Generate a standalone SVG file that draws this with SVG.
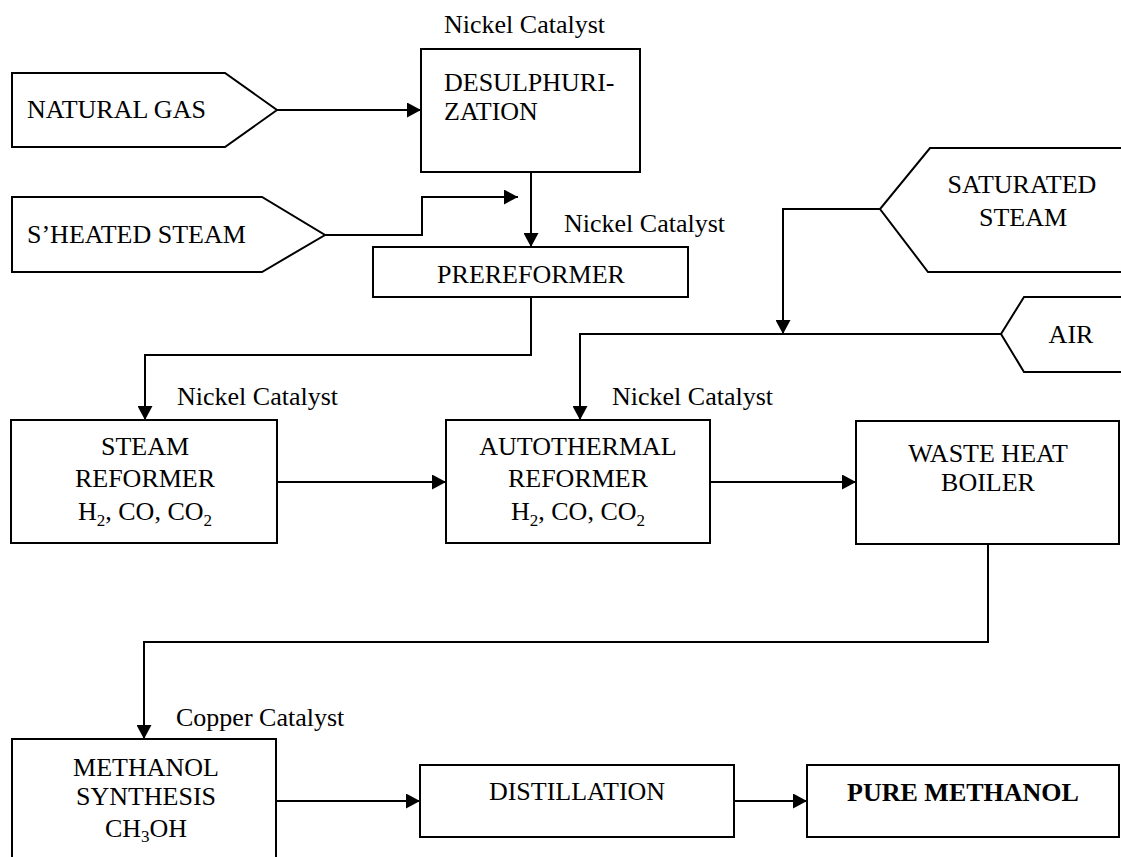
<svg xmlns="http://www.w3.org/2000/svg" width="1121" height="857" viewBox="0 0 1121 857">
<style>
text{font-family:"Liberation Serif","Times New Roman",serif;font-size:26px;fill:#000}
.c{text-anchor:middle}
.b{font-weight:bold}
.box{fill:none;stroke:#000;stroke-width:2}
.ln{fill:none;stroke:#000;stroke-width:2}
.sub{font-size:17px}
</style>
<defs>
<marker id="ah" viewBox="0 0 14 15" refX="14" refY="7.5" markerWidth="14" markerHeight="15" markerUnits="userSpaceOnUse" orient="auto">
<path d="M0,0 L14,7.5 L0,15 z" fill="#000"/>
</marker>
</defs>
<rect width="1121" height="857" fill="#fff"/>

<g id="connectors">
<path class="ln" d="M277,110 L421,110" marker-end="url(#ah)"/>
<path class="ln" d="M325,235 L422,235 L422,197 L518,197" marker-end="url(#ah)"/>
<path class="ln" d="M531,172 L531,247" marker-end="url(#ah)"/>
<path class="ln" d="M531,297 L531,355 L145,355 L145,420" marker-end="url(#ah)"/>
<path class="ln" d="M880,209 L783,209 L783,334" marker-end="url(#ah)"/>
<path class="ln" d="M1001,334 L580,334 L580,420" marker-end="url(#ah)"/>
<path class="ln" d="M277,482 L446,482" marker-end="url(#ah)"/>
<path class="ln" d="M710,482 L856,482" marker-end="url(#ah)"/>
<path class="ln" d="M988,544 L988,642 L144,642 L144,739" marker-end="url(#ah)"/>
<path class="ln" d="M276,801 L420,801" marker-end="url(#ah)"/>
<path class="ln" d="M734,801 L807,801" marker-end="url(#ah)"/>
</g>

<g id="natural-gas">
<path class="box" d="M12,73 L225,73 L277,110 L225,147 L12,147 Z"/>
<text x="27" y="118">NATURAL GAS</text>
</g>

<g id="sheated-steam">
<path class="box" d="M12,197 L262,197 L325,235 L262,272 L12,272 Z"/>
<text x="27" y="243">S’HEATED STEAM</text>
</g>

<g id="desulphurization">
<text x="444" y="33">Nickel Catalyst</text>
<rect class="box" x="421" y="49" width="219" height="123"/>
<text x="444" y="91">DESULPHURI-<tspan x="444" dy="29">ZATION</tspan></text>
</g>

<g id="prereformer">
<text x="564" y="232">Nickel Catalyst</text>
<rect class="box" x="373" y="247" width="315" height="50"/>
<text class="c" x="531" y="283">PREREFORMER</text>
</g>

<g id="saturated-steam">
<path class="box" d="M1125,148 L930,148 L880,209 L928,272 L1125,272"/>
<text class="c" x="1022" y="193">SATURATED<tspan x="1023" dy="33">STEAM</tspan></text>
</g>

<g id="air">
<path class="box" d="M1125,297 L1024,297 L1001,334 L1024,372 L1125,372"/>
<text class="c" x="1071" y="343">AIR</text>
</g>

<g id="steam-reformer">
<text x="177" y="405">Nickel Catalyst</text>
<rect class="box" x="11" y="420" width="266" height="123"/>
<text class="c" x="145" y="455">STEAM<tspan x="145" dy="32">REFORMER</tspan><tspan x="145" dy="33">H</tspan><tspan class="sub" dy="6">2</tspan><tspan dy="-6">, CO, CO</tspan><tspan class="sub" dy="6">2</tspan></text>
</g>

<g id="autothermal-reformer">
<text x="612" y="405">Nickel Catalyst</text>
<rect class="box" x="446" y="420" width="264" height="123"/>
<text class="c" x="578" y="455">AUTOTHERMAL<tspan x="578" dy="32">REFORMER</tspan><tspan x="578" dy="33">H</tspan><tspan class="sub" dy="6">2</tspan><tspan dy="-6">, CO, CO</tspan><tspan class="sub" dy="6">2</tspan></text>
</g>

<g id="waste-heat-boiler">
<rect class="box" x="856" y="421" width="263" height="123"/>
<text class="c" x="988" y="462">WASTE HEAT<tspan x="988" dy="29">BOILER</tspan></text>
</g>

<g id="methanol-synthesis">
<text x="176" y="726">Copper Catalyst</text>
<rect class="box" x="12" y="739" width="264" height="140"/>
<text class="c" x="146" y="776">METHANOL<tspan x="146" dy="29">SYNTHESIS</tspan><tspan x="146" dy="32">CH</tspan><tspan class="sub" dy="5">3</tspan><tspan dy="-5">OH</tspan></text>
</g>

<g id="distillation">
<rect class="box" x="420" y="765" width="314" height="72"/>
<text class="c" x="577" y="800">DISTILLATION</text>
</g>

<g id="pure-methanol">
<rect class="box" x="807" y="765" width="312" height="72"/>
<text class="c b" x="963" y="801">PURE METHANOL</text>
</g>
</svg>
